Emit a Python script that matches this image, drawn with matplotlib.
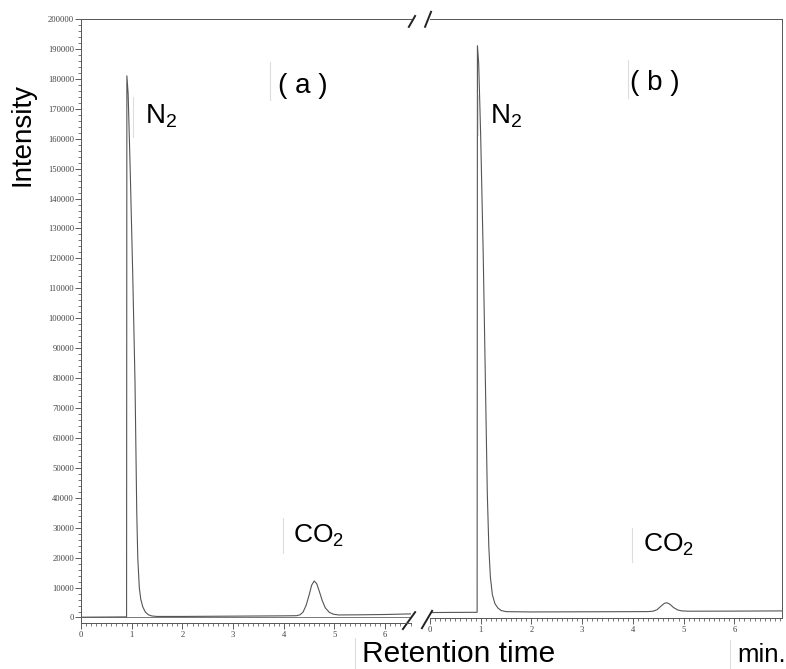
import matplotlib
matplotlib.use("Agg")
import matplotlib.pyplot as plt
from matplotlib.ticker import MultipleLocator

plt.rcParams['font.family'] = ['Liberation Sans', 'DejaVu Sans']
plt.rcParams['mathtext.default'] = 'regular'

# ---- trace (a): retention time (min) / intensity ----
time_a = [0.0, 0.5, 0.899, 0.905, 0.93, 0.97, 1.02, 1.065, 1.10, 1.12, 1.15,
          1.18, 1.22, 1.27, 1.33, 1.40, 1.50, 2.0, 3.0, 4.0, 4.25, 4.32, 4.38,
          4.44, 4.50, 4.55, 4.60, 4.65, 4.70, 4.76, 4.82, 4.90, 4.98, 5.08,
          5.5, 6.0, 6.5]
inten_a = [100, 150, 200, 181000, 175000, 150000, 115000, 79000, 35000, 20000,
           10000, 6000, 3500, 1800, 900, 500, 350, 350, 450, 550, 600, 900,
           1800, 4000, 7500, 10800, 12200, 11300, 8800, 5600, 3200, 1700, 1100,
           850, 900, 1000, 1200]

# ---- trace (b) ----
time_b = [0.0, 0.5, 0.929, 0.935, 0.96, 1.00, 1.05, 1.09, 1.13, 1.16, 1.19,
          1.23, 1.28, 1.34, 1.40, 1.50, 2.0, 3.0, 4.0, 4.30, 4.40, 4.48, 4.55,
          4.62, 4.67, 4.73, 4.80, 4.88, 4.96, 5.1, 6.0, 6.94]
inten_b = [0, 50, 80, 191000, 185000, 160000, 120000, 80000, 40000, 22000,
           12000, 6000, 3000, 1500, 700, 300, 200, 250, 300, 320, 450, 1000,
           2100, 3100, 3300, 2800, 1700, 900, 550, 450, 480, 550]

y_ticks = list(range(0, 200001, 10000))
x_ticks = [0, 1, 2, 3, 4, 5, 6]

W, H = 786, 669
fig = plt.figure(figsize=(W / 100, H / 100), dpi=100)


def px(x0, y0, x1, y1):
    # pixel box (top-left origin) -> figure fraction rect
    return [x0 / W, 1 - y1 / H, (x1 - x0) / W, (y1 - y0) / H]


ax1 = fig.add_axes(px(81, 19, 410.5, 623))
ax2 = fig.add_axes(px(430, 19, 782, 618))

line_col = "#555555"
tick_col = "#444444"

for ax, t, y, xmax in [(ax1, time_a, inten_a, 6.5), (ax2, time_b, inten_b, 6.94)]:
    ax.plot(t, y, color=line_col, lw=0.8)
    ax.set_xlim(0, xmax)
    ax.set_ylim(-1840, 200000)
    ax.set_xticks(x_ticks)
    ax.set_xticklabels([str(v) for v in x_ticks], fontsize=6.2,
                       family="Liberation Serif", color=tick_col)
    ax.xaxis.set_minor_locator(MultipleLocator(0.1))
    ax.tick_params(axis="x", which="major", direction="out", length=4,
                   width=0.6, color=tick_col, pad=2)
    ax.tick_params(axis="x", which="minor", direction="out", length=2,
                   width=0.5, color=tick_col)
    ax.spines["right"].set_visible(False)
    for s in ax.spines.values():
        s.set_linewidth(0.7)
        s.set_color("#555555")

# zero line of panel (a)
ax1.axhline(0, color="#777777", lw=0.7, zorder=0)

ax1.set_yticks(y_ticks)
ax1.set_yticklabels([str(v) for v in y_ticks], fontsize=6.2,
                    family="Liberation Serif", color=tick_col)
ax1.yaxis.set_minor_locator(MultipleLocator(2000))
ax1.tick_params(axis="y", which="major", direction="out", length=4,
                width=0.6, color=tick_col, pad=1)
ax1.tick_params(axis="y", which="minor", direction="out", length=2,
                width=0.5, color=tick_col)

ax2.spines["left"].set_visible(False)
ax2.spines["right"].set_visible(True)
ax2.set_yticks([])

# break marks
brk = dict(color="#222222", lw=1.4, clip_on=False)
ax1.plot([0.977, 1.014], [-0.010, 0.018], transform=ax1.transAxes, **brk)
ax1.plot([0.995, 1.014], [0.987, 1.005], transform=ax1.transAxes, **brk)
ax2.plot([-0.023, 0.006], [-0.017, 0.012], transform=ax2.transAxes, **brk)
ax2.plot([-0.014, 0.003], [0.987, 1.012], transform=ax2.transAxes, **brk)


def ftext(x, y, s, **kw):
    fig.text(x / W, 1 - y / H, s, **kw)


ftext(23, 134, "Intensity", rotation=90, ha="center", va="center", fontsize=20)
ftext(145, 123, "N$_2$", fontsize=20, va="baseline")
ftext(490, 123, "N$_2$", fontsize=20, va="baseline")
ftext(278, 93, "( a )", fontsize=20, va="baseline")
ftext(630, 90, "( b )", fontsize=20, va="baseline")
ftext(293, 543, "CO$_2$", fontsize=19, va="baseline")
ftext(643, 552, "CO$_2$", fontsize=19, va="baseline")
ftext(362, 662, "Retention time", fontsize=21.5, va="baseline")
ftext(737, 662, "min.", fontsize=18.5, va="baseline")

# faint edges of pasted label boxes
for x, y0, y1 in [(270, 62, 100), (133, 97, 137), (283, 518, 553),
                  (628, 60, 98), (478, 95, 135), (632, 528, 562),
                  (355, 638, 669), (730, 640, 669)]:
    fig.add_artist(plt.Line2D([x / W, x / W], [1 - y0 / H, 1 - y1 / H],
                              color="#dddddd", lw=0.8))

fig.savefig("out.png", dpi=100)
